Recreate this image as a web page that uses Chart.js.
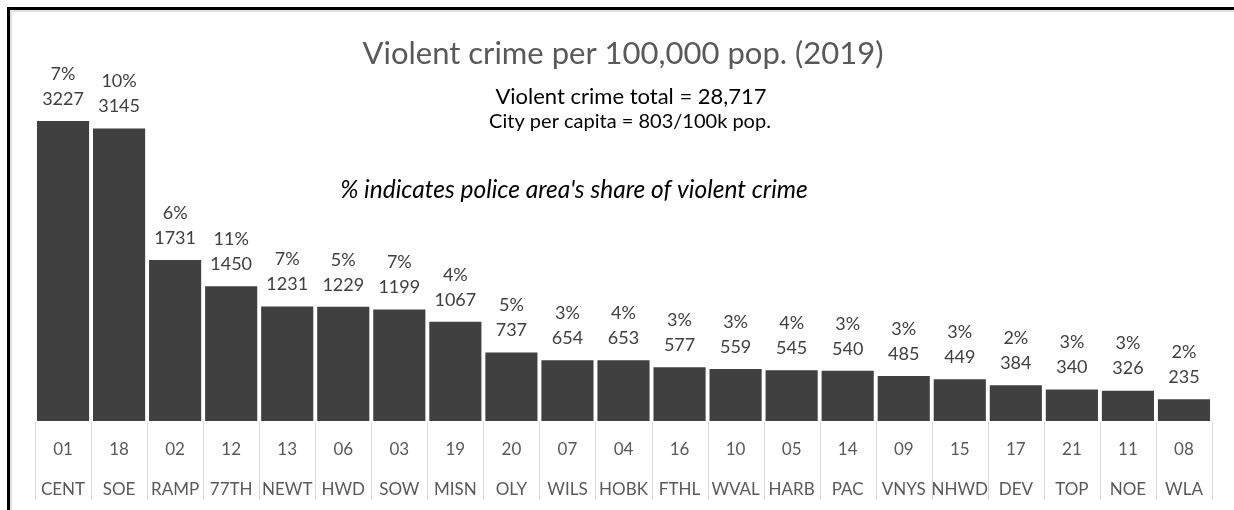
<!DOCTYPE html>
<html lang="en">
<head>
  <meta charset="UTF-8" />
  <title>Violent crime per 100,000 pop. (2019)</title>
  <style>
    body {
      margin: 0;
      padding: 0;
      background: #fff;
      overflow: hidden;
    }
    #wrap {
      position: relative;
      width: 1234px;
      height: 510px;
    }
    #frame {
      position: absolute;
      left: 7px;
      top: 7px;
      width: 1300px;
      height: 600px;
      border-top: 3px solid #000;
      border-left: 3px solid #000;
      box-shadow: inset 2px 2px 0 #e0e0e0;
      pointer-events: none;
    }
  </style>
</head>
<body>
  <div id="wrap">
    <canvas id="grafico" width="1234" height="510"></canvas>
    <div id="frame"></div>
  </div>

  <script src="https://cdn.jsdelivr.net/npm/chart.js"></script>
  <script>
    const codigos = ["01", "18", "02", "12", "13", "06", "03", "19", "20", "07", "04",
                     "16", "10", "05", "14", "09", "15", "17", "21", "11", "08"];
    const areas = ["CENT", "SOE", "RAMP", "77TH", "NEWT", "HWD", "SOW", "MISN", "OLY", "WILS", "HOBK",
                   "FTHL", "WVAL", "HARB", "PAC", "VNYS", "NHWD", "DEV", "TOP", "NOE", "WLA"];
    const taxas = [3227, 3145, 1731, 1450, 1231, 1229, 1199, 1067, 737, 654, 653,
                   577, 559, 545, 540, 485, 449, 384, 340, 326, 235];
    const parcelas = ["7%", "10%", "6%", "11%", "7%", "5%", "7%", "4%", "5%", "3%", "4%",
                      "3%", "3%", "4%", "3%", "3%", "3%", "2%", "3%", "3%", "2%"];

    const fonte = "Lato, 'Open Sans', sans-serif";

    // rótulos de duas linhas acima das barras, textos do título e divisórias do eixo
    const rotulos = {
      id: "rotulos",
      afterDatasetsDraw(chart) {
        const ctx = chart.ctx;
        const meta = chart.getDatasetMeta(0);
        const x = chart.scales.x;
        const area = chart.chartArea;
        ctx.save();

        // divisórias entre categorias, abaixo das barras
        const passo = x.width / taxas.length;
        ctx.strokeStyle = "#d9d9d9";
        ctx.lineWidth = 1;
        ctx.beginPath();
        for (let i = 0; i <= taxas.length; i++) {
          const px = Math.round(x.left + i * passo) + 0.5;
          ctx.moveTo(px, area.bottom + 1);
          ctx.lineTo(px, area.bottom + 79);
        }
        ctx.stroke();

        ctx.fillStyle = "#404040";
        ctx.textAlign = "center";
        ctx.textBaseline = "middle";
        ctx.font = "18px " + fonte;
        meta.data.forEach((bar, i) => {
          ctx.fillText(String(taxas[i]), bar.x, bar.y - 22);
          ctx.fillText(parcelas[i], bar.x, bar.y - 47);
        });

        ctx.fillStyle = "#595959";
        ctx.font = "31px " + fonte;
        ctx.fillText("Violent crime per 100,000 pop. (2019)", 623, 54);

        ctx.fillStyle = "#000";
        ctx.font = "22px " + fonte;
        ctx.fillText("Violent crime total = 28,717", 631, 97);
        ctx.font = "20px " + fonte;
        ctx.fillText("City per capita = 803/100k pop.", 630, 122);
        ctx.font = "italic 24.5px " + fonte;
        ctx.fillText("% indicates police area's share of violent crime", 574, 190);
        ctx.restore();
      }
    };

    new Chart(document.getElementById("grafico"), {
      type: "bar",
      data: {
        labels: codigos.map((c, i) => [c, areas[i]]),
        datasets: [{
          data: taxas,
          backgroundColor: "#404040",
          barPercentage: 0.93,
          categoryPercentage: 1
        }]
      },
      options: {
        responsive: false,
        animation: false,
        layout: { padding: { left: 35, right: 22, top: 49, bottom: -9 } },
        plugins: {
          legend: { display: false },
          tooltip: { enabled: false }
        },
        scales: {
          x: {
            border: { display: false },
            grid: { display: false, drawTicks: false },
            ticks: {
              color: "#595959",
              padding: 9,
              maxRotation: 0,
              autoSkip: false,
              font: { family: fonte, size: 17, lineHeight: 40 / 17 }
            }
          },
          y: {
            display: false,
            min: 0,
            max: 4000
          }
        }
      },
      plugins: [rotulos]
    });
  </script>
</body>
</html>
